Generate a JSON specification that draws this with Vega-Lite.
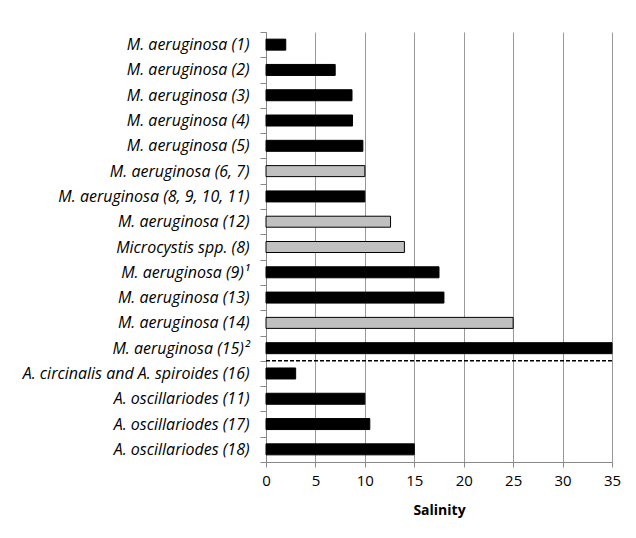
{
  "$schema": "https://vega.github.io/schema/vega-lite/v6.json",
  "autosize": "none",
  "width": 346,
  "height": 430,
  "padding": {"left": 266, "top": 32, "right": 24, "bottom": 76},
  "background": "white",
  "config": {"view": {"stroke": null}, "font": "Open Sans"},
  "data": {"values": [
    {"strain": "M. aeruginosa (1)", "salinity": 2, "kind": "A"},
    {"strain": "M. aeruginosa (2)", "salinity": 7, "kind": "A"},
    {"strain": "M. aeruginosa (3)", "salinity": 8.7, "kind": "A"},
    {"strain": "M. aeruginosa (4)", "salinity": 8.75, "kind": "A"},
    {"strain": "M. aeruginosa (5)", "salinity": 9.8, "kind": "A"},
    {"strain": "M. aeruginosa (6, 7)", "salinity": 10, "kind": "B"},
    {"strain": "M. aeruginosa (8, 9, 10, 11)", "salinity": 10, "kind": "A"},
    {"strain": "M. aeruginosa (12)", "salinity": 12.6, "kind": "B"},
    {"strain": "Microcystis spp. (8)", "salinity": 14, "kind": "B"},
    {"strain": "M. aeruginosa (9)¹", "salinity": 17.5, "kind": "A"},
    {"strain": "M. aeruginosa (13)", "salinity": 18, "kind": "A"},
    {"strain": "M. aeruginosa (14)", "salinity": 25, "kind": "B"},
    {"strain": "M. aeruginosa (15)²", "salinity": 35, "kind": "A"},
    {"strain": "A. circinalis and A. spiroides (16)", "salinity": 3, "kind": "A"},
    {"strain": "A. oscillariodes (11)", "salinity": 10, "kind": "A"},
    {"strain": "A. oscillariodes (17)", "salinity": 10.5, "kind": "A"},
    {"strain": "A. oscillariodes (18)", "salinity": 15, "kind": "A"}
  ]},
  "layer": [
    {
      "mark": {"type": "bar", "size": 11, "stroke": "black", "strokeWidth": 1},
      "encoding": {
        "y": {"field": "strain", "type": "nominal", "sort": null,
          "scale": {"paddingInner": 0, "paddingOuter": 0, "domain": [
            "M. aeruginosa (1)", "M. aeruginosa (2)", "M. aeruginosa (3)", "M. aeruginosa (4)", "M. aeruginosa (5)",
            "M. aeruginosa (6, 7)", "M. aeruginosa (8, 9, 10, 11)", "M. aeruginosa (12)", "Microcystis spp. (8)",
            "M. aeruginosa (9)¹", "M. aeruginosa (13)", "M. aeruginosa (14)", "M. aeruginosa (15)²",
            "A. circinalis and A. spiroides (16)", "A. oscillariodes (11)", "A. oscillariodes (17)", "A. oscillariodes (18)"]},
          "axis": {"title": null, "tickBand": "extent", "tickSize": 6, "tickColor": "#888", "domainColor": "#888",
            "labelFont": "Open Sans", "labelFontStyle": "italic", "labelFontSize": 16, "labelColor": "black",
            "labelPadding": 11, "labelLimit": 300}},
        "x": {"field": "salinity", "type": "quantitative",
          "scale": {"domain": [0, 35], "nice": false},
          "axis": {"values": [0, 5, 10, 15, 20, 25, 30, 35], "grid": true, "gridColor": "#999", "gridOpacity": 1,
            "tickColor": "#888", "tickSize": 5, "domainColor": "#888", "labelFlush": false,
            "labelFont": "Open Sans", "labelFontSize": 15, "labelColor": "black", "labelPadding": 6,
            "title": "Salinity", "titleFont": "Open Sans", "titleFontSize": 14, "titleFontWeight": "bold", "titleColor": "black", "titlePadding": 15}},
        "color": {"field": "kind", "type": "nominal", "legend": null,
          "scale": {"domain": ["A", "B"], "range": ["#000000", "#c0c0c0"]}}
      }
    },
    {
      "data": {"values": [{"strain": "A. circinalis and A. spiroides (16)"}]},
      "mark": {"type": "rule", "color": "black", "strokeWidth": 1.5, "strokeDash": [4, 2]},
      "encoding": {
        "y": {"field": "strain", "type": "nominal", "bandPosition": 0}
      }
    }
  ]
}
